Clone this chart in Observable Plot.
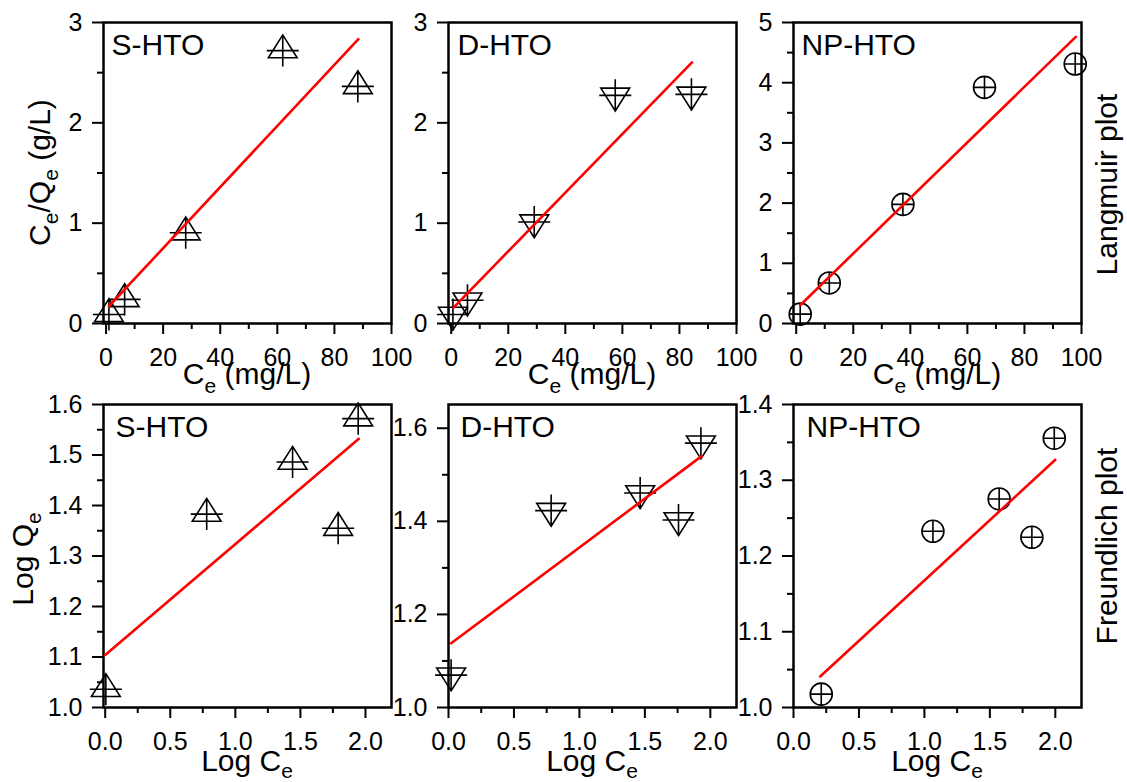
<!DOCTYPE html>
<html>
<head>
<meta charset="utf-8">
<script src="https://cdn.jsdelivr.net/npm/d3@7"></script>
<script src="https://cdn.jsdelivr.net/npm/@observablehq/plot@0.6"></script>
<style>
  body { margin: 0; background: #ffffff; }
  #chart { position: relative; width: 1127px; height: 782px; font-family: "Liberation Sans", Arial, sans-serif; background: #ffffff; }
  #chart svg { position: absolute; overflow: visible; }
</style>
</head>
<body>
<div id="chart"></div>
<script>
// ---------------- data ----------------
const sampleNames = ["S-HTO", "D-HTO", "NP-HTO"];

// Langmuir plot: Ce (mg/L) vs Ce/Qe (g/L)
const langCeS = [1.0, 6.5, 27.9, 61.9, 88.2];
const langRatioS = [0.09, 0.24, 0.905, 2.72, 2.363];
const langFitXS = [1.0, 88.4];
const langFitYS = [0.172, 2.834];

const langCeD = [0.6, 5.7, 29.1, 57.5, 84.2];
const langRatioD = [0.09, 0.232, 1.011, 2.274, 2.284];
const langFitXD = [0.8, 84.4];
const langFitYD = [0.159, 2.602];

const langCeNP = [1.4, 11.6, 37.4, 66.0, 97.8];
const langRatioNP = [0.155, 0.674, 1.978, 3.923, 4.31];
const langFitXNP = [1.4, 98.0];
const langFitYNP = [0.304, 4.762];

// Freundlich plot: Log Ce vs Log Qe
const frLogCeS = [0.005, 0.78, 1.44, 1.79, 1.944];
const frLogQeS = [1.036, 1.383, 1.486, 1.355, 1.572];
const frFitXS = [0.0, 1.949];
const frFitYS = [1.104, 1.532];

const frLogCeD = [0.02, 0.784, 1.464, 1.757, 1.928];
const frLogQeD = [1.0695, 1.423, 1.461, 1.403, 1.568];
const frFitXD = [0.02, 1.934];
const frFitYD = [1.138, 1.540];

const frLogCeNP = [0.212, 1.065, 1.571, 1.821, 1.992];
const frLogQeNP = [1.0176, 1.2326, 1.2753, 1.2247, 1.3555];
const frFitXNP = [0.204, 2.0];
const frFitYNP = [1.041, 1.327];

// tick values
const langXTicks = [0, 20, 40, 60, 80, 100];
const langXMinor = [10, 30, 50, 70, 90];
const langYTicks3 = [0, 1, 2, 3];
const langYMinor3 = [0.5, 1.5, 2.5];
const langYTicks5 = [0, 1, 2, 3, 4, 5];
const langYMinor5 = [0.5, 1.5, 2.5, 3.5, 4.5];
const frXTicks = [0, 0.5, 1.0, 1.5, 2.0];
const frXMinor = [0.25, 0.75, 1.25, 1.75];
const frYTicksS = [1.0, 1.1, 1.2, 1.3, 1.4, 1.5, 1.6];
const frYMinorS = [1.05, 1.15, 1.25, 1.35, 1.45, 1.55];
const frYTicksD = [1.0, 1.2, 1.4, 1.6];
const frYMinorD = [1.1, 1.3, 1.5];
const frYTicksNP = [1.0, 1.1, 1.2, 1.3, 1.4];
const frYMinorNP = [1.05, 1.15, 1.25, 1.35];

// ---------------- marker symbols ----------------
const triUpPlus = {
  draw(ctx, size) {
    const r = Math.sqrt(size / Math.PI);
    ctx.moveTo(0, -0.98 * r);
    ctx.lineTo(0.9 * r, 0.45 * r);
    ctx.lineTo(-0.9 * r, 0.45 * r);
    ctx.closePath();
    ctx.moveTo(-r, 0); ctx.lineTo(r, 0);
    ctx.moveTo(0, -r); ctx.lineTo(0, r);
  }
};
const triDownPlus = {
  draw(ctx, size) {
    const r = Math.sqrt(size / Math.PI);
    ctx.moveTo(0, 0.98 * r);
    ctx.lineTo(0.9 * r, -0.45 * r);
    ctx.lineTo(-0.9 * r, -0.45 * r);
    ctx.closePath();
    ctx.moveTo(-r, 0); ctx.lineTo(r, 0);
    ctx.moveTo(0, -r); ctx.lineTo(0, r);
  }
};
const circlePlus = {
  draw(ctx, size) {
    const r = Math.sqrt(size / Math.PI);
    ctx.moveTo(r, 0);
    ctx.arc(0, 0, r, 0, 2 * Math.PI);
    ctx.moveTo(-r, 0); ctx.lineTo(r, 0);
    ctx.moveTo(0, -r); ctx.lineTo(0, r);
  }
};

// ---------------- layout ----------------
const FONT = '"Liberation Sans", Arial, sans-serif';
const colX = [[103, 391], [448, 736], [793, 1081]];
const rowY = [[22, 323], [404, 707]];
const ML = 100, MR = 20, MT = 20, MB = 60;

const zip = (xs, ys) => xs.map((x, i) => ({x, y: ys[i]}));
const fmtInt = d => String(d);
const fmt1 = d => d.toFixed(1);

const panels = [
  {row: 0, col: 0, name: sampleNames[0], xDomain: [-0.9, 100], yDomain: [0, 3],
   pts: zip(langCeS, langRatioS), fit: zip(langFitXS, langFitYS), symbol: triUpPlus, r: 16,
   xTicks: langXTicks, xMinor: langXMinor, yTicks: langYTicks3, yMinor: langYMinor3, xFmt: fmtInt, yFmt: fmtInt, dx: 8},
  {row: 0, col: 1, name: sampleNames[1], xDomain: [-0.95, 100], yDomain: [0, 3],
   pts: zip(langCeD, langRatioD), fit: zip(langFitXD, langFitYD), symbol: triDownPlus, r: 16,
   xTicks: langXTicks, xMinor: langXMinor, yTicks: langYTicks3, yMinor: langYMinor3, xFmt: fmtInt, yFmt: fmtInt, dx: 9},
  {row: 0, col: 2, name: sampleNames[2], xDomain: [-0.95, 100], yDomain: [0, 5],
   pts: zip(langCeNP, langRatioNP), fit: zip(langFitXNP, langFitYNP), symbol: circlePlus, r: 11,
   xTicks: langXTicks, xMinor: langXMinor, yTicks: langYTicks5, yMinor: langYMinor5, xFmt: fmtInt, yFmt: fmtInt, dx: 8},
  {row: 1, col: 0, name: sampleNames[0], xDomain: [-0.013, 2.2], yDomain: [1.0, 1.6],
   pts: zip(frLogCeS, frLogQeS), fit: zip(frFitXS, frFitYS), symbol: triUpPlus, r: 16,
   xTicks: frXTicks, xMinor: frXMinor, yTicks: frYTicksS, yMinor: frYMinorS, xFmt: fmt1, yFmt: fmt1, dx: 12},
  {row: 1, col: 1, name: sampleNames[1], xDomain: [0, 2.2], yDomain: [1.0, 1.651],
   pts: zip(frLogCeD, frLogQeD), fit: zip(frFitXD, frFitYD), symbol: triDownPlus, r: 16,
   xTicks: frXTicks, xMinor: frXMinor, yTicks: frYTicksD, yMinor: frYMinorD, xFmt: fmt1, yFmt: fmt1, dx: 12},
  {row: 1, col: 2, name: sampleNames[2], xDomain: [0, 2.2], yDomain: [1.0, 1.4],
   pts: zip(frLogCeNP, frLogQeNP), fit: zip(frFitXNP, frFitYNP), symbol: circlePlus, r: 11,
   xTicks: frXTicks, xMinor: frXMinor, yTicks: frYTicksNP, yMinor: frYMinorNP, xFmt: fmt1, yFmt: fmt1, dx: 13}
];

const chart = document.getElementById("chart");

for (const p of panels) {
  const [x0, x1] = colX[p.col];
  const [y0, y1] = rowY[p.row];
  const w = (x1 - x0) + ML + MR;
  const h = (y1 - y0) + MT + MB;
  const svg = Plot.plot({
    width: w, height: h,
    marginLeft: ML, marginRight: MR, marginTop: MT, marginBottom: MB,
    style: {background: "none", overflow: "visible", fontFamily: FONT, color: "black"},
    x: {domain: p.xDomain},
    y: {domain: p.yDomain},
    marks: [
      Plot.axisX(p.xTicks, {tickSize: 11, tickPadding: 14, strokeWidth: 2, fontSize: 25, tickFormat: p.xFmt, label: null}),
      Plot.axisX(p.xMinor, {tickSize: 6, strokeWidth: 2, fill: "none", label: null}),
      Plot.axisY(p.yTicks, {tickSize: 11, tickPadding: 10, strokeWidth: 2, fontSize: 25, tickFormat: p.yFmt, label: null}),
      Plot.axisY(p.yMinor, {tickSize: 6, strokeWidth: 2, fill: "none", label: null}),
      Plot.frame({stroke: "black", strokeWidth: 2.5}),
      Plot.dot(p.pts, {x: "x", y: "y", symbol: p.symbol, r: p.r, fill: "none", stroke: "black", strokeWidth: 1.6}),
      Plot.line(p.fit, {x: "x", y: "y", stroke: "#ff0000", strokeWidth: 2.6}),
      Plot.text([p.name], {frameAnchor: "top-left", textAnchor: "start", lineAnchor: "top", dx: p.dx, dy: 11, fontSize: 30, fill: "black"})
    ]
  });
  svg.style.left = (x0 - ML) + "px";
  svg.style.top = (y0 - MT) + "px";
  chart.appendChild(svg);
}

// ---------------- axis titles (overlay) ----------------
const overlay = d3.select(chart).append("svg")
  .attr("width", 1127).attr("height", 782)
  .style("left", "0px").style("top", "0px")
  .attr("font-family", FONT).attr("fill", "black");

function richText(g, parts, drop) {
  // parts: [text, isSub]
  const t = g.append("text").attr("text-anchor", "middle").attr("font-size", 30);
  let sub = false;
  for (const [s, isSub] of parts) {
    const ts = t.append("tspan").text(s);
    if (isSub && !sub) { ts.attr("font-size", 21).attr("dy", drop); sub = true; }
    else if (isSub) { ts.attr("font-size", 21); }
    else if (!isSub && sub) { ts.attr("dy", -drop); sub = false; }
  }
  return t;
}

const xTitleLang = [["C", false], ["e", true], [" (mg/L)", false]];
const xTitleFr = [["Log C", false], ["e", true]];
for (let c = 0; c < 3; c++) {
  const cx = (colX[c][0] + colX[c][1]) / 2;
  richText(overlay.append("g").attr("transform", `translate(${cx},383.5)`), xTitleLang, 9);
  richText(overlay.append("g").attr("transform", `translate(${cx},771)`), xTitleFr, 7);
}
richText(overlay.append("g").attr("transform", "translate(50,172.5) rotate(-90)"),
  [["C", false], ["e", true], ["/Q", false], ["e", true], [" (g/L)", false]], 8);
richText(overlay.append("g").attr("transform", "translate(33,559) rotate(-90)"),
  [["Log Q", false], ["e", true]], 8);
richText(overlay.append("g").attr("transform", "translate(1116.5,184.5) rotate(-90)"),
  [["Langmuir plot", false]], 8);
richText(overlay.append("g").attr("transform", "translate(1116.5,546) rotate(-90)"),
  [["Freundlich plot", false]], 8);
</script>
</body>
</html>
